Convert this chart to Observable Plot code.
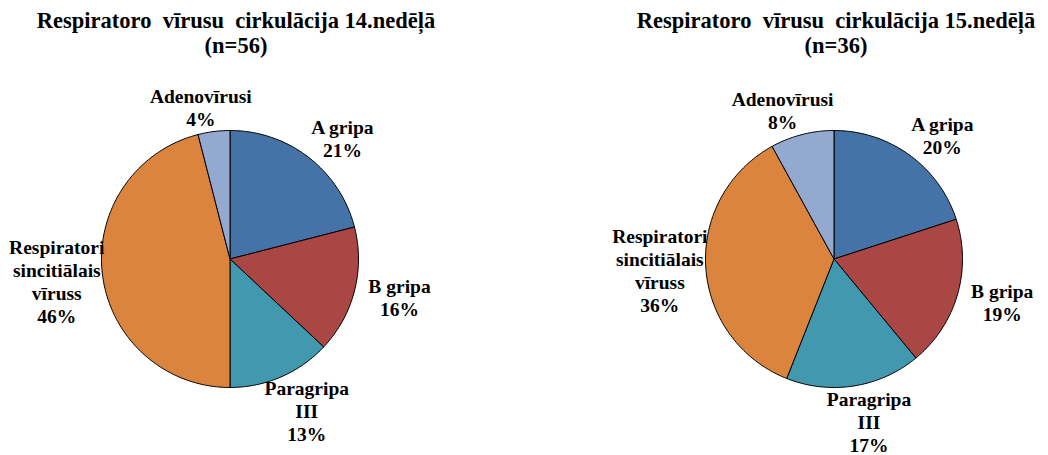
<!DOCTYPE html>
<html><head><meta charset="utf-8">
<script src="https://cdn.jsdelivr.net/npm/d3@7"></script>
<script src="https://cdn.jsdelivr.net/npm/@observablehq/plot@0.6"></script>
<style>
body{margin:0;background:#fff;}
#wrap{position:relative;width:1048px;height:455px;overflow:hidden;font-family:"Liberation Serif","Times New Roman",serif;background:#fff;}
.title{position:absolute;top:8px;width:472px;text-align:center;font-weight:bold;font-size:22.5px;line-height:25px;white-space:pre;color:#000;}
.panel{position:absolute;top:0;}
.panel svg{overflow:visible;}
.panel svg text, .panel svg tspan{font-family:"Liberation Serif","Times New Roman",serif !important;font-weight:bold;}
</style></head><body><div id="wrap"></div>
<script>
// ---- data ----
const categories = ["A gripa", "B gripa", "Paragripa III", "Respiratori sincitiālais vīruss", "Adenovīrusi"];
const labelNames = ["A gripa", "B gripa", "Paragripa\nIII", "Respiratori\nsincitiālais\nvīruss", "Adenovīrusi"];
const colors = ["#4572A7", "#AA4643", "#4198AF", "#DB843D", "#93A9CF"];
const week14 = [21, 16, 13, 46, 4];
const week15 = [20, 19, 17, 36, 8];
const titles14 = ["Respiratoro  vīrusu  cirkulācija 14.nedēļā", "(n=56)"];
const titles15 = ["Respiratoro  vīrusu  cirkulācija 15.nedēļā", "(n=36)"];

// ---- layout (not data) ----
const R = 128.5, CY = 258.5, PW = 480, PH = 455;
const GX = 14, GY = 2, HALF_W = 32;
const FONT_SIZE = 19.5, LINE_H = 23;
const panels = [
  {values: week14, title: titles14, left: 0, titleLeft: 0, cx: 229.5},
  {values: week15, title: titles15, left: 568, titleLeft: 600, cx: 265.5}
];

const wrap = document.getElementById("wrap");
for (const p of panels) {
  const total = d3.sum(p.values);
  const slices = [], labels = [];
  let cum = 0;
  p.values.forEach((v, i) => {
    const a0 = cum / total * 360, a1 = (cum + v) / total * 360;
    cum += v;
    const name = categories[i];
    slices.push({name, x: 0, y: 0});
    const steps = Math.max(2, Math.ceil(a1 - a0));
    for (let k = 0; k <= steps; k++) {
      const a = (a0 + (a1 - a0) * k / steps) * Math.PI / 180;
      slices.push({name, x: Math.sin(a), y: Math.cos(a)});
    }
    slices.push({name, x: 0, y: 0});
    const text = `${labelNames[i]}\n${Math.round(v / total * 100)}%`;
    const mid = (a0 + a1) / 2 * Math.PI / 180;
    const s = Math.sin(mid), c = Math.cos(mid);
    const h = text.split("\n").length * LINE_H;
    labels.push({
      text,
      x: s * (1 + GX / R) + Math.sign(s) * Math.sqrt(Math.abs(s)) * HALF_W / R,
      y: c * (1 + GY / R) + c * h / (2 * R)
    });
  });

  const chart = Plot.plot({
    width: PW, height: PH,
    margin: 0,
    x: {domain: [-p.cx / R, (PW - p.cx) / R], range: [0, PW], axis: null},
    y: {domain: [-(PH - CY) / R, CY / R], range: [PH, 0], axis: null},
    color: {domain: categories, range: colors},
    style: {background: "transparent", overflow: "visible", fontFamily: '"Liberation Serif", serif'},
    marks: [
      Plot.line(slices, {x: "x", y: "y", z: "name", fill: "name", stroke: "black", strokeWidth: 1, curve: "linear", strokeLinejoin: "round"}),
      Plot.text(labels, {x: "x", y: "y", text: "text", textAnchor: "middle", lineAnchor: "middle",
        fontFamily: "Liberation Serif", fontSize: FONT_SIZE, fontWeight: "bold",
        lineHeight: LINE_H / FONT_SIZE, fill: "black"})
    ]
  });
  const div = document.createElement("div");
  div.className = "panel";
  div.style.left = p.left + "px";
  div.appendChild(chart);
  wrap.appendChild(div);

  const t = document.createElement("div");
  t.className = "title";
  t.style.left = p.titleLeft + "px";
  t.textContent = p.title.join("\n");
  wrap.appendChild(t);
}
</script></body></html>
